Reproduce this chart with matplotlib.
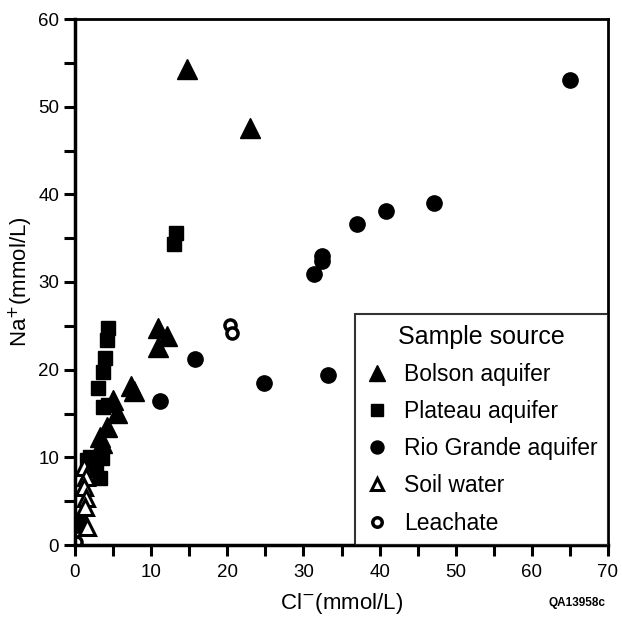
import matplotlib
matplotlib.use("Agg")
import matplotlib.pyplot as plt
from matplotlib.ticker import MultipleLocator

plt.rcParams['font.family'] = ['Liberation Sans', 'DejaVu Sans']

bolson_x = [14.7, 23.0, 10.9, 12.1, 10.9, 7.3, 7.8, 5.0, 5.5, 4.2, 3.3, 3.5]
bolson_y = [54.3, 47.6, 24.7, 23.8, 22.6, 18.1, 17.6, 16.5, 15.1, 13.5, 12.3, 11.6]

plateau_x = [13.3, 13.0, 4.3, 4.2, 3.9, 3.7, 3.0, 3.7, 4.3, 2.0, 3.5, 1.6, 3.3, 2.8, 0.5]
plateau_y = [35.6, 34.3, 24.7, 23.4, 21.3, 19.7, 17.9, 15.7, 16.0, 10.0, 9.9, 9.7, 7.6, 8.6, 2.9]

rio_x = [65.0, 47.2, 40.9, 37.1, 32.5, 32.5, 31.4, 15.8, 11.2, 24.8, 33.2, 0.3]
rio_y = [53.0, 39.0, 38.1, 36.6, 33.0, 32.4, 30.9, 21.2, 16.4, 18.5, 19.4, 2.3]

soil_x = [1.2, 1.4, 1.2, 1.4, 1.3, 1.6]
soil_y = [8.9, 7.8, 6.6, 5.4, 4.3, 2.0]

leach_x = [20.4, 20.6, 0.1]
leach_y = [25.1, 24.2, 0.3]

labels = ["Bolson aquifer", "Plateau aquifer", "Rio Grande aquifer", "Soil water", "Leachate"]

fig = plt.figure(figsize=(6.22, 6.18), dpi=100)
ax = fig.add_axes([75/622, 73/618, 533/622, 526/618])

ax.plot(bolson_x, bolson_y, '^', color='black', ms=14, ls='none', label=labels[0])
ax.plot(plateau_x, plateau_y, 's', color='black', ms=10, ls='none', label=labels[1])
ax.plot(rio_x, rio_y, 'o', color='black', ms=11, ls='none', label=labels[2])
ax.plot(soil_x, soil_y, '^', mfc='white', mec='black', mew=2.2, ms=11, ls='none', label=labels[3])
ax.plot(leach_x, leach_y, 'o', mfc='white', mec='black', mew=2.5, ms=8, ls='none', label=labels[4])

ax.set_xlim(0, 70)
ax.set_ylim(0, 60)
ax.xaxis.set_major_locator(MultipleLocator(10))
ax.xaxis.set_minor_locator(MultipleLocator(5))
ax.yaxis.set_major_locator(MultipleLocator(10))
ax.yaxis.set_minor_locator(MultipleLocator(5))
ax.tick_params(which='both', direction='out', length=8, width=2.2, labelsize=13.5)
ax.tick_params(axis='x', pad=6)
for s in ['left', 'bottom']:
    ax.spines[s].set_linewidth(2.5)
for s in ['top', 'right']:
    ax.spines[s].set_linewidth(2.0)

ax.set_xlabel("Cl$^{-}$(mmol/L)", fontsize=16, labelpad=7)
ax.set_ylabel("Na$^{+}$(mmol/L)", fontsize=16, labelpad=2)

leg = ax.legend(loc='lower right', title="Sample source", fontsize=16.5, title_fontsize=18,
                frameon=True, fancybox=False, edgecolor='black', borderaxespad=0,
                handletextpad=0.7, labelspacing=0.62, borderpad=0.45, markerscale=0.85,
                handlelength=1.0)
leg.get_frame().set_linewidth(1.5)

fig.text(577/622, 1 - 603/618, "QA13958c", fontsize=8.5, ha='center', va='center', fontweight='bold')

fig.savefig("out.png", dpi=100)
